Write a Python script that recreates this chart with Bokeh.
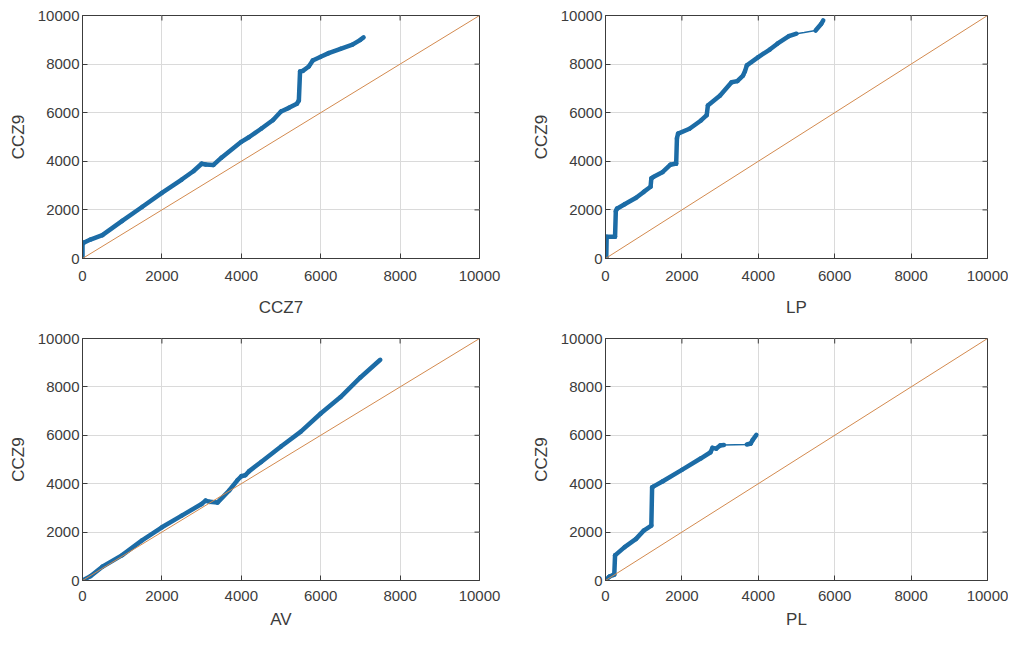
import math
from bokeh.plotting import figure
from bokeh.layouts import column, row
from bokeh.models import Range1d, FixedTicker
from bokeh.embed import file_html
from bokeh.resources import INLINE

# ---------------- data ----------------
axis_ticks = [0, 2000, 4000, 6000, 8000, 10000]
axis_limits = [0, 10000]
ref_line = [0, 10000]
y_label = "CCZ9"

# CCZ9 vs CCZ7
ccz7_x = [0, 0, 30, 200, 500, 1000, 1500, 2000, 2500, 2800, 3000, 3100, 3300, 3500,
          4000, 4200, 4500, 4800, 5000, 5200, 5400, 5450, 5480, 5550, 5700, 5800,
          6000, 6200, 6500, 6800, 7000, 7080]
ccz7_y = [0, 600, 650, 780, 960, 1550, 2120, 2700, 3250, 3600, 3900, 3870, 3850, 4150,
          4800, 5000, 5340, 5700, 6050, 6200, 6370, 6500, 7700, 7720, 7900, 8150,
          8300, 8450, 8630, 8800, 9000, 9100]
ccz7_dense = [1] * len(ccz7_x)

# CCZ9 vs LP
lp_x = [0, 20, 30, 250, 270, 300, 500, 800, 1000, 1180, 1200, 1250, 1500, 1700, 1820,
        1850, 1870, 1900, 2200, 2500, 2650, 2680, 3000, 3300, 3450, 3600, 3650, 3700,
        4000, 4300, 4500, 4800, 5000, 5200, 5500, 5650, 5700]
lp_y = [0, 50, 900, 900, 1950, 2050, 2230, 2500, 2740, 2950, 3300, 3350, 3560, 3860, 3900,
        3900, 4950, 5140, 5340, 5680, 5900, 6300, 6710, 7250, 7300, 7530, 7700, 7950,
        8290, 8600, 8840, 9150, 9250, 9300, 9380, 9660, 9800]
lp_dense = [1] * 32 + [0, 0] + [1] * 3

# CCZ9 vs AV
av_x = [0, 200, 500, 1000, 1500, 2000, 2500, 3000, 3100, 3200, 3400, 3700, 3900, 4000,
        4100, 4200, 4500, 5000, 5500, 6000, 6500, 7000, 7500]
av_y = [0, 180, 570, 1050, 1660, 2200, 2680, 3160, 3300, 3250, 3220, 3730, 4140, 4310,
        4350, 4520, 4900, 5540, 6150, 6900, 7580, 8390, 9120]
av_dense = [1] * len(av_x)

# CCZ9 vs PL
pl_x = [0, 100, 200, 230, 250, 500, 800, 1000, 1200, 1220, 1250, 1500, 2000, 2500, 2750,
        2800, 2900, 3000, 3100, 3700, 3800, 3850, 3950]
pl_y = [0, 160, 230, 240, 1040, 1380, 1720, 2060, 2270, 3850, 3880, 4100, 4570, 5050, 5300,
        5480, 5450, 5580, 5600, 5620, 5660, 5800, 6020]
pl_dense = [1] * 18 + [0] + [1] * 4

# ---------------- style ----------------
BLUE = "#1c6ca6"
ORANGE = "#d38a4f"
DARK = "#3c3c3c"
FONT = "Liberation Sans"


def style_axis(ax):
    ax.ticker = FixedTicker(ticks=axis_ticks)
    ax.major_tick_in = 5
    ax.major_tick_out = 0
    ax.minor_tick_line_color = None
    ax.axis_line_color = DARK
    ax.major_tick_line_color = DARK
    ax.major_label_text_font = FONT
    ax.major_label_text_color = DARK
    ax.major_label_text_font_size = "15px"
    ax.axis_label_text_font = FONT
    ax.axis_label_text_font_style = "normal"
    ax.axis_label_text_color = DARK
    ax.axis_label_text_font_size = "17px"


def panel(x, y, dense, xlabel, width, height, bl, br, bt, bb, xs, xls):
    p = figure(width=width, height=height,
               x_range=Range1d(*axis_limits), y_range=Range1d(*axis_limits),
               output_backend="svg", toolbar_location=None,
               min_border_left=bl, min_border_right=br,
               min_border_top=bt, min_border_bottom=bb)
    p.background_fill_color = "white"
    p.border_fill_color = "white"
    p.outline_line_color = DARK
    p.outline_line_width = 1

    style_axis(p.xaxis[0])
    style_axis(p.yaxis[0])
    p.xaxis[0].axis_label = xlabel
    p.yaxis[0].axis_label = y_label
    p.xaxis[0].major_label_standoff = xs
    p.xaxis[0].axis_label_standoff = xls
    p.yaxis[0].major_label_standoff = 3
    p.yaxis[0].axis_label_standoff = 7

    p.xgrid.ticker = FixedTicker(ticks=axis_ticks)
    p.ygrid.ticker = FixedTicker(ticks=axis_ticks)
    p.xgrid.grid_line_color = "#dadada"
    p.ygrid.grid_line_color = "#dadada"

    # inward ticks on the top and right edges of the box
    n = len(axis_ticks)
    p.ray(x=axis_ticks, y=[axis_limits[1]] * n, length=5, length_units="screen",
          angle=-math.pi / 2, line_color=DARK, line_width=1)
    p.ray(x=[axis_limits[1]] * n, y=axis_ticks, length=5, length_units="screen",
          angle=math.pi, line_color=DARK, line_width=1)

    # thin connecting line through all samples
    p.line(x, y, line_width=1.5, color=BLUE)
    # thick (densely sampled) stretches
    idx = [i for i in range(len(x) - 1) if dense[i]]
    p.segment(x0=[x[i] for i in idx], y0=[y[i] for i in idx],
              x1=[x[i + 1] for i in idx], y1=[y[i + 1] for i in idx],
              line_width=4.5, color=BLUE, line_cap="round")

    # y = x reference
    p.line(ref_line, ref_line, line_width=1, color=ORANGE)
    return p


p1 = panel(ccz7_x, ccz7_y, ccz7_dense, "CCZ7", 520, 320, 82, 41, 15, 62, 12, 14)
p2 = panel(lp_x, lp_y, lp_dense, "LP", 488, 320, 85, 21, 15, 62, 12, 14)
p3 = panel(av_x, av_y, av_dense, "AV", 520, 312, 82, 41, 18, 52, 10, 6)
p4 = panel(pl_x, pl_y, pl_dense, "PL", 488, 312, 85, 21, 18, 52, 10, 6)

layout = column(row(p1, p2), row(p3, p4))
open("out.html", "w").write(file_html(layout, INLINE))
